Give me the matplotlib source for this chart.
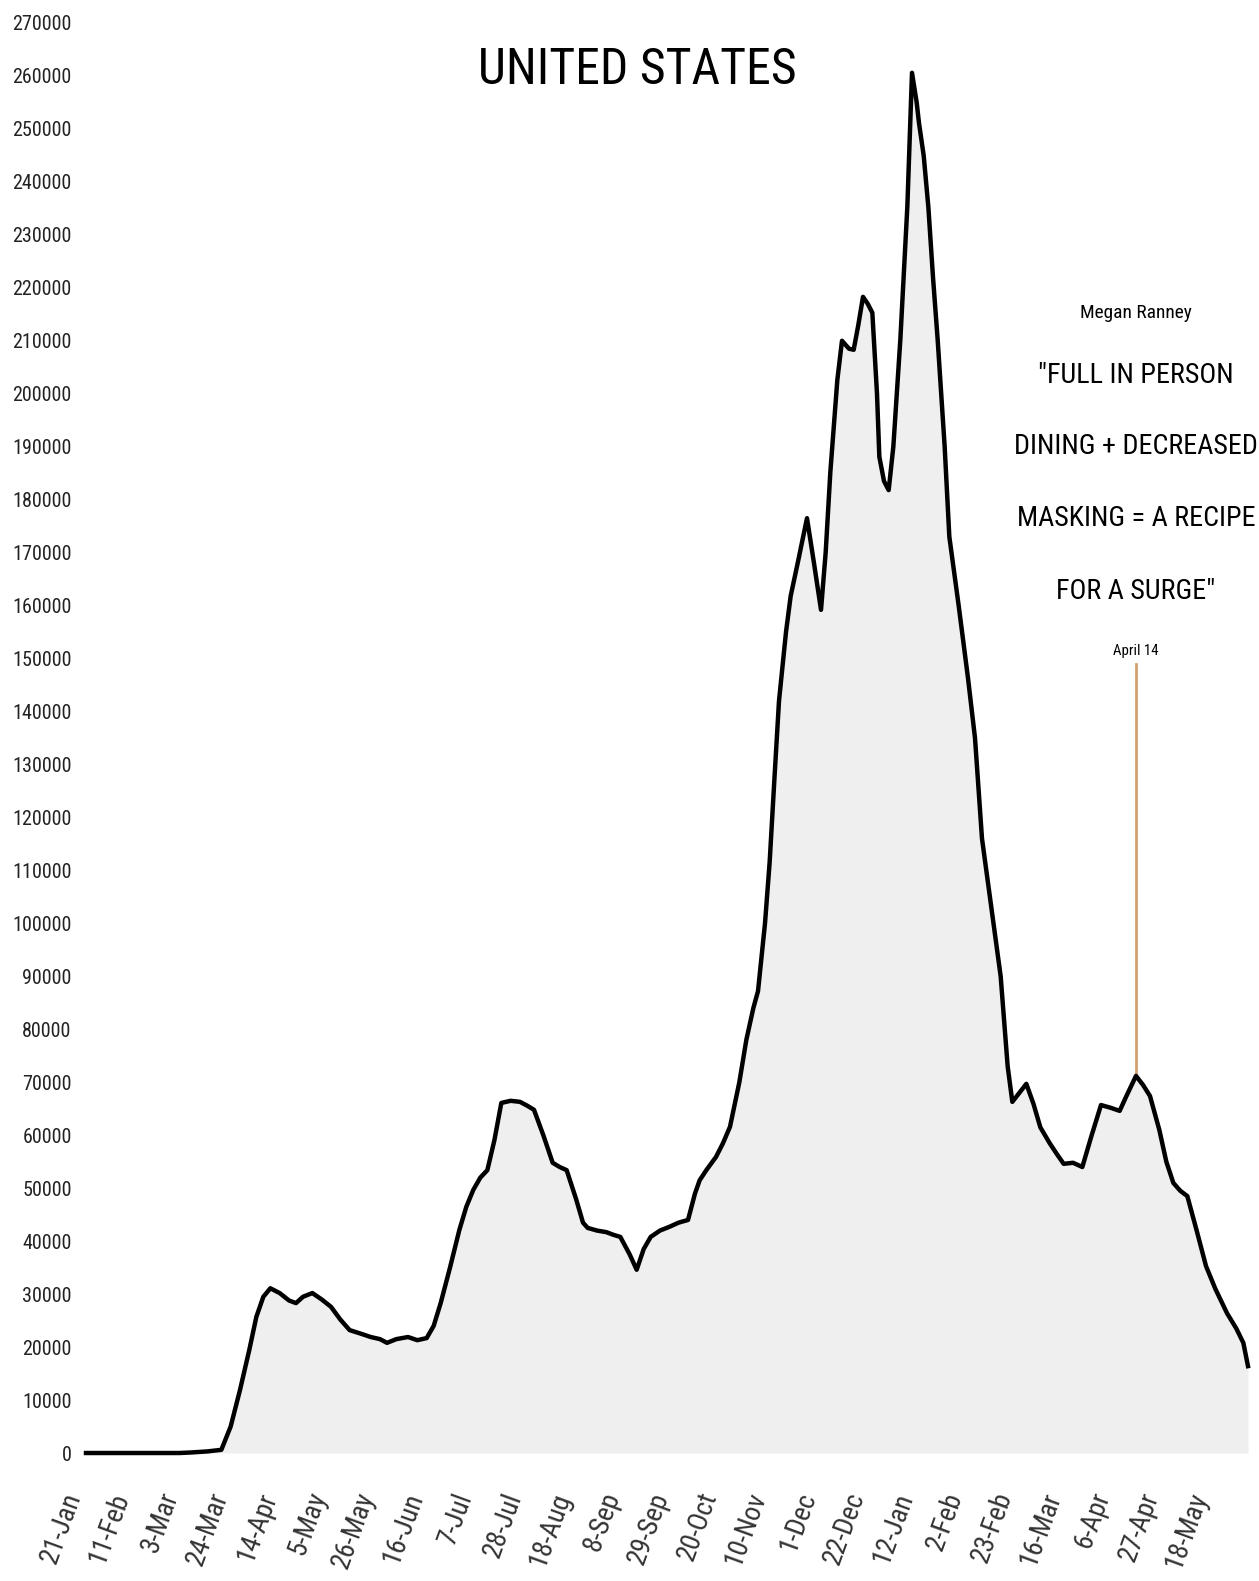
import matplotlib
matplotlib.use("Agg")
import matplotlib.pyplot as plt
from matplotlib import font_manager as fm

# ---- data ----
# days since 21-Jan-2020 and 7-day average new cases
days = [0, 20, 40, 45, 52, 58, 62, 66, 70, 73, 76, 79, 83, 87, 90, 93, 97, 101, 105, 109,
        113, 118, 122, 126, 129, 133, 138, 142, 146, 149, 152, 156, 160, 163, 166, 169, 172,
        175, 178, 182, 186, 189, 192, 196, 200, 203, 206, 210, 213, 215, 219, 223, 226, 229,
        233, 236, 239, 242, 246, 250, 254, 258, 261, 263, 266, 270, 273, 276, 280, 283, 286,
        288, 291, 293, 295, 297, 300, 302, 305, 309, 312, 315, 317, 319, 322, 324, 327, 329,
        331, 333, 335, 337, 339, 340, 342, 344, 346, 349, 352, 354, 356, 357, 359, 361, 363,
        365, 368, 370, 374, 378, 381, 384, 388, 392, 395, 397, 400, 403, 406, 409, 413, 416,
        419, 423, 427, 431, 435, 439, 443, 446, 450, 453, 456, 460, 463, 466, 469, 472, 476,
        480, 484, 489, 493, 496, 498]
cases = [0, 0, 0, 100, 300, 600, 5000, 11900, 19500, 25700, 29500, 31100, 30200, 28800,
         28300, 29500, 30200, 29000, 27600, 25200, 23200, 22500, 21900, 21500, 20800, 21500,
         21900, 21300, 21700, 24000, 28300, 35000, 42100, 46500, 49700, 52000, 53400, 59000,
         66100, 66500, 66300, 65600, 64800, 60000, 54800, 54000, 53400, 48000, 43500, 42500,
         42000, 41700, 41200, 40800, 37500, 34600, 38500, 40800, 42000, 42700, 43500, 44000,
         49000, 51500, 53500, 55900, 58500, 61600, 70000, 78000, 84000, 87200, 100000, 111600,
         127000, 142000, 155000, 161800, 168000, 176500, 168000, 159200, 170000, 185200,
         202600, 210000, 208500, 208300, 213000, 218300, 217000, 215300, 200000, 188100,
         183500, 181800, 190000, 210200, 235300, 260600, 255000, 251100, 245000, 235300,
         222000, 210200, 190000, 173000, 160000, 146300, 135000, 116000, 103000, 90000,
         73000, 66300, 68000, 69700, 66000, 61500, 58500, 56500, 54600, 54800, 54000, 60000,
         65700, 65200, 64600, 67500, 71200, 69500, 67400, 61000, 55000, 51000, 49500, 48500,
         42000, 35300, 31000, 26400, 23500, 20800, 16400]

tick_days = list(range(0, 484, 21))
tick_labels = ["21-Jan", "11-Feb", "3-Mar", "24-Mar", "14-Apr", "5-May", "26-May", "16-Jun",
               "7-Jul", "28-Jul", "18-Aug", "8-Sep", "29-Sep", "20-Oct", "10-Nov", "1-Dec",
               "22-Dec", "12-Jan", "2-Feb", "23-Feb", "16-Mar", "6-Apr", "27-Apr", "18-May"]
y_ticks = list(range(0, 270001, 10000))

event_day = 450          # April 14, 2021
event_top = 149000
event_label = "April 14"
title = "UNITED STATES"
quote_author = "Megan Ranney"
quote_lines = ['"FULL IN PERSON', 'DINING + DECREASED', 'MASKING = A RECIPE', 'FOR A SURGE"']
quote_y = [203500, 190000, 176400, 162600]

# ---- font choice: prefer a condensed / narrow sans face if one is installed ----
family, stretch = 'Liberation Sans', 'normal'
names = {(f.name, f.stretch) for f in fm.fontManager.ttflist}
prefs = [('Liberation Sans Narrow', None), ('DejaVu Sans Condensed', None),
         ('Roboto Condensed', None), ('Open Sans Condensed', None), ('Noto Sans', 'cond'),
         ('DejaVu Sans', 'cond'), ('Open Sans', 'cond'), ('Roboto', 'cond')]
chosen = False
for nm, kind in prefs:
    for (n, s) in names:
        if n == nm and (kind is None or (isinstance(s, str) and 'condensed' in s)):
            family = nm
            stretch = s if kind else 'normal'
            chosen = True
            break
    if chosen:
        break
plt.rcParams['font.family'] = [family, 'DejaVu Sans']
plt.rcParams['font.stretch'] = stretch

W, H = 1259, 1581
fig = plt.figure(figsize=(W / 100, H / 100), dpi=100)
ax_left, ax_right = 80, 1255
ax_top, ax_bot = 23, 1463.6
ax = fig.add_axes([ax_left / W, 1 - ax_bot / H, (ax_right - ax_left) / W, (ax_bot - ax_top) / H])

px_per_day = 49 / 21
ax.set_xlim(-(86 - ax_left) / px_per_day, (ax_right - 86) / px_per_day)
ax.set_ylim(-2000, 270000)

ax.fill_between(days, 0, cases, color='#efefef', lw=0, zorder=1)
ax.plot(days, cases, color='black', lw=3.2, solid_joinstyle='round', zorder=3)

ev_val = cases[days.index(event_day)]
ax.plot([event_day, event_day], [event_top, ev_val], color='#d3a16b', lw=2, zorder=2)
t_ev = ax.text(event_day, event_top + 2500, event_label, ha='center', va='center', fontsize=9.5)

t_auth = ax.text(event_day, 215300, quote_author, ha='center', va='center', fontsize=14)
t_quote = [ax.text(event_day, yv, line, ha='center', va='center', fontsize=20)
           for line, yv in zip(quote_lines, quote_y)]

t_title = fig.text(637 / W, 1 - 70 / H, title, ha='center', va='center', fontsize=40)

ax.set_xticks(tick_days)
ax.set_xticklabels(tick_labels, rotation=70, ha='right', fontsize=14, color='#333333')
ax.set_yticks(y_ticks)
ax.set_yticklabels([str(v) for v in y_ticks], fontsize=16, color='#222222')
ax.tick_params(axis='x', length=0, pad=18)
ax.tick_params(axis='y', length=0, pad=6)
for s in ax.spines.values():
    s.set_visible(False)
ax.set_facecolor('white')

# ---- scale font sizes so the text sizes match the reference ----
fig.canvas.draw()
r = fig.canvas.get_renderer()


def fit(texts, ref_text, target):
    w = ref_text.get_window_extent(r).width
    k = target / w
    for t in texts:
        t.set_fontsize(t.get_fontsize() * k)


fit([t_title], t_title, 318)
fit(t_quote, t_quote[1], 244)
fit([t_auth], t_auth, 113)
fit([t_ev], t_ev, 46)

# y tick labels: "270000" about 60 px wide
yl = ax.get_yticklabels()
w = max(t.get_window_extent(r).width for t in yl)
ax.tick_params(axis='y', labelsize=yl[0].get_fontsize() * 60 / w)

# x tick labels: rotated "21-Jan" spans about 80 px vertically
xl = ax.get_xticklabels()
hgt = xl[0].get_window_extent(r).height
ax.tick_params(axis='x', labelsize=xl[0].get_fontsize() * 78 / hgt)

fig.savefig('out.png', dpi=100)
